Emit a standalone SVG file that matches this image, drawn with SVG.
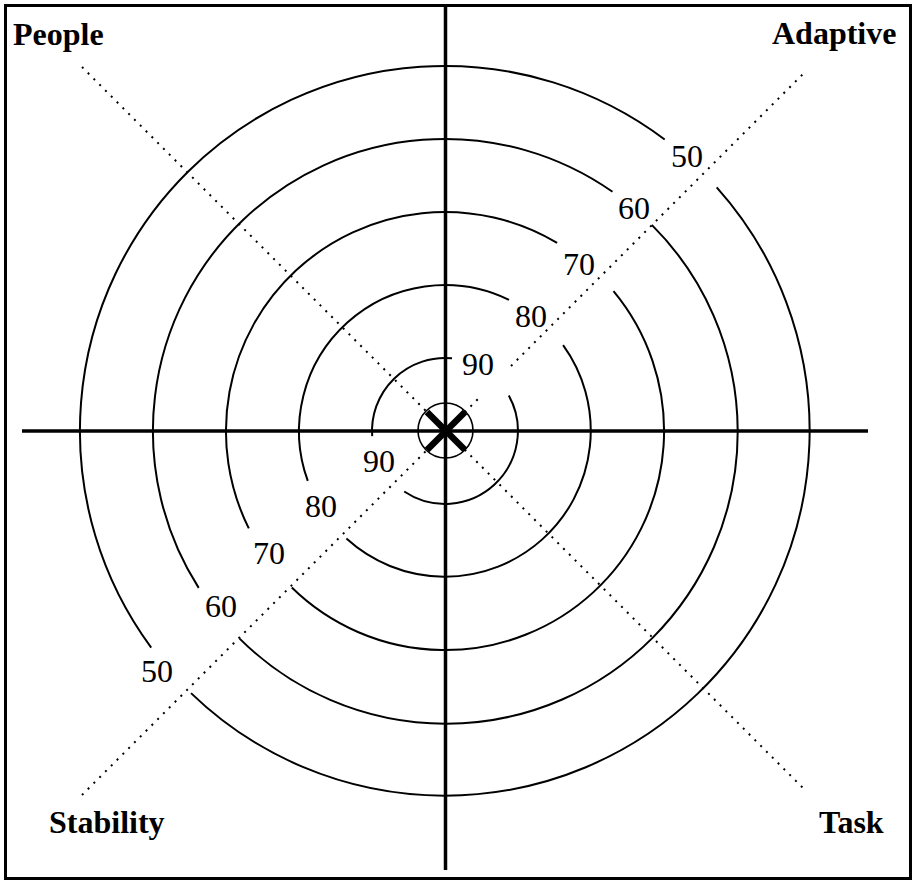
<svg xmlns="http://www.w3.org/2000/svg" width="915" height="882" viewBox="0 0 915 882">
<style>
.ring{fill:none;stroke:#000;stroke-width:2}
.axis{stroke:#000;stroke-width:3.5;fill:none}
.dot{stroke:#000;stroke-width:2;stroke-dasharray:2 6.2;fill:none}
text{font-family:'Liberation Serif','DejaVu Serif',serif;fill:#000}
.num{font-size:32px}
.corner{font-size:32px;font-weight:bold}
</style>
<rect x="0" y="0" width="915" height="882" fill="#fff"/>
<rect x="5.5" y="5.5" width="905" height="873" fill="none" stroke="#000" stroke-width="3"/>
<g id="connectors">
<line class="axis" x1="445.5" y1="5" x2="445.5" y2="870"/>
<line class="axis" x1="22" y1="431" x2="868" y2="431"/>
<line class="dot" x1="82" y1="67" x2="806" y2="791"/>
<line class="dot" x1="82" y1="795" x2="481" y2="396"/>
<line class="dot" x1="511" y1="366" x2="806" y2="71"/>
</g>
<g id="ring90">
<path class="ring" d="M452,358.3 A73,73 0 0 0 372.2,436.1"/>
<path class="ring" d="M404.2,491.5 A73,73 0 0 0 508.8,395.6"/>
</g>
<g id="ring80">
<path class="ring" d="M509,299.8 A146,146 0 0 0 307.8,480.9"/>
<path class="ring" d="M346.4,538.6 A146,146 0 0 0 563.1,345.2"/>
</g>
<g id="ring70">
<path class="ring" d="M557.1,242.9 A219,219 0 0 0 248.8,528.4"/>
<path class="ring" d="M291.8,587.5 A219,219 0 0 0 613.5,291.1"/>
</g>
<g id="ring60">
<path class="ring" d="M612.5,191.8 A292,292 0 0 0 198.7,587.9"/>
<path class="ring" d="M239.6,638.6 A292,292 0 0 0 651.8,224.9"/>
</g>
<g id="ring50">
<path class="ring" d="M664.7,139.5 A365,365 0 0 0 151.2,647.6"/>
<path class="ring" d="M191,693.1 A365,365 0 0 0 716.7,187.3"/>
</g>
<g id="center">
<circle cx="445.5" cy="430.5" r="27.5" fill="none" stroke="#000" stroke-width="1.6"/>
<line x1="427" y1="412" x2="465" y2="450" stroke="#000" stroke-width="6.5"/>
<line x1="465" y1="412" x2="427" y2="450" stroke="#000" stroke-width="6.5"/>
</g>
<g id="labels-upper">
<text class="num" x="671" y="167" font-family="Liberation Serif, serif">50</text>
<text class="num" x="618" y="219" font-family="Liberation Serif, serif">60</text>
<text class="num" x="563" y="275" font-family="Liberation Serif, serif">70</text>
<text class="num" x="515" y="327" font-family="Liberation Serif, serif">80</text>
<text class="num" x="462" y="375" font-family="Liberation Serif, serif">90</text>
</g>
<g id="labels-lower">
<text class="num" x="363" y="472" font-family="Liberation Serif, serif">90</text>
<text class="num" x="305" y="517" font-family="Liberation Serif, serif">80</text>
<text class="num" x="253" y="564" font-family="Liberation Serif, serif">70</text>
<text class="num" x="205" y="617" font-family="Liberation Serif, serif">60</text>
<text class="num" x="141" y="682" font-family="Liberation Serif, serif">50</text>
</g>
<g id="node-people"><text class="corner" x="13" y="45" font-family="Liberation Serif, serif">People</text></g>
<g id="node-adaptive"><text class="corner" x="772" y="44" font-family="Liberation Serif, serif">Adaptive</text></g>
<g id="node-stability"><text class="corner" x="49" y="833" font-family="Liberation Serif, serif">Stability</text></g>
<g id="node-task"><text class="corner" x="819" y="833" font-family="Liberation Serif, serif">Task</text></g>
</svg>
